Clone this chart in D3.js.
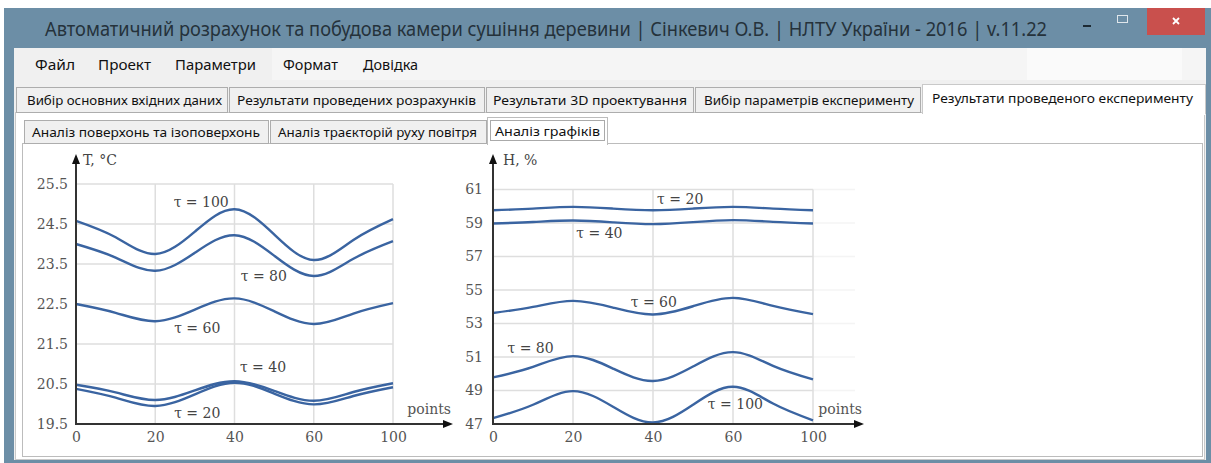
<!DOCTYPE html>
<html>
<head>
<meta charset="utf-8">
<script src="https://cdn.jsdelivr.net/npm/d3@7/dist/d3.min.js"></script>
<style>
body { margin: 0; background: #fff; }
svg { display: block; }
</style>
</head>
<body>
<svg id="app" width="1211" height="463"></svg>
<script>
// --- data ---
var pointTicks = [0, 20, 40, 60, 100];           // x axis labels (evenly spaced)
var steps = [0, 0.5, 1, 1.5, 2, 2.5, 3, 3.5, 4];   // sample position along the points axis
var tempTicks = [19.5, 20.5, 21.5, 22.5, 23.5, 24.5, 25.5];
var humTicks = [47, 49, 51, 53, 55, 57, 59, 61];
var tauNames = ['τ = 20', 'τ = 40', 'τ = 60', 'τ = 80', 'τ = 100'];

// T, °C
var tempTau20  = [20.38, 20.16, 19.95, 20.24, 20.53, 20.26, 19.99, 20.20, 20.42];
var tempTau40  = [20.48, 20.29, 20.10, 20.34, 20.57, 20.33, 20.08, 20.30, 20.52];
var tempTau60  = [22.50, 22.28, 22.07, 22.36, 22.64, 22.32, 22.00, 22.26, 22.52];
var tempTau80  = [24.00, 23.66, 23.33, 23.78, 24.22, 23.71, 23.20, 23.63, 24.07];
var tempTau100 = [24.58, 24.17, 23.75, 24.31, 24.87, 24.24, 23.60, 24.10, 24.62];
var tempLabelAt = [[1.53, 19.78], [2.36, 20.93], [1.53, 21.90], [2.37, 23.20], [1.58, 25.06]];

// H, %
var humTau20  = [59.76, 59.86, 59.96, 59.86, 59.76, 59.86, 59.96, 59.86, 59.76];
var humTau40  = [58.97, 59.06, 59.15, 59.04, 58.93, 59.05, 59.17, 59.07, 58.97];
var humTau60  = [53.63, 53.99, 54.35, 53.95, 53.54, 54.03, 54.53, 54.05, 53.56];
var humTau80  = [49.78, 50.41, 51.05, 50.31, 49.57, 50.43, 51.29, 50.47, 49.66];
var humTau100 = [47.35, 48.15, 48.96, 48.03, 47.09, 48.15, 49.22, 48.22, 47.22];
var humLabelAt = [[2.34, 60.42], [1.33, 58.37], [2.01, 54.29], [0.47, 51.51], [3.03, 48.17]];

var svg = d3.select('#app');
var uiFont = "'Noto Sans', 'Open Sans', sans-serif";
var serif = "'DejaVu Serif', 'Liberation Serif', serif";

drawWindow();
drawChart({
    left: 76, right: 393, top: 184, bottom: 424, arrowX: 453,
    domain: [19.5, 25.5], ticks: tempTicks, fmt: d3.format('.1f'), pad: 8,
    title: 'T, °C', titleX: 83,
    series: [tempTau20, tempTau40, tempTau60, tempTau80, tempTau100],
    labels: tempLabelAt
});
drawChart({
    left: 493, right: 813, top: 189.5, bottom: 424, arrowX: 864,
    domain: [47, 61], ticks: humTicks, fmt: d3.format('d'), pad: 10,
    title: 'H, %', titleX: 503, extend: 855,
    series: [humTau20, humTau40, humTau60, humTau80, humTau100],
    labels: humLabelAt
});

function txt(x, y, s, size, w, opts) {
    opts = opts || {};
    var t = svg.append('text')
        .attr('x', x).attr('y', y)
        .attr('dy', '0.35em')
        .attr('font-family', opts.family || uiFont)
        .attr('font-size', size)
        .attr('fill', opts.fill || '#111')
        .text(s);
    if (w) t.attr('textLength', w).attr('lengthAdjust', 'spacingAndGlyphs');
    return t;
}

function drawWindow() {
    // frame + title bar
    svg.append('rect').attr('x', 4).attr('y', 8).attr('width', 1207).attr('height', 455)
       .attr('fill', '#6c8ea6');
    txt(45, 29, 'Автоматичний розрахунок та побудова камери сушіння деревини | Сінкевич О.В. | НЛТУ України - 2016 | v.11.22',
        20, 1002, {fill: '#25323b'});

    // window buttons
    svg.append('rect').attr('x', 1083).attr('y', 25).attr('width', 8).attr('height', 2).attr('fill', '#1d2a33');
    svg.append('rect').attr('x', 1117.5).attr('y', 15.5).attr('width', 10).attr('height', 7)
       .attr('fill', 'none').attr('stroke', '#dfe6eb').attr('stroke-width', 1);
    svg.append('rect').attr('x', 1147).attr('y', 8).attr('width', 58).attr('height', 27).attr('fill', '#c9504d');
    svg.append('path').attr('d', 'M1173,18 L1179,24 M1179,18 L1173,24')
       .attr('stroke', '#fff').attr('stroke-width', 1.8);

    // client area
    svg.append('rect').attr('x', 14).attr('y', 48).attr('width', 1192).attr('height', 412).attr('fill', '#f0f0f0');
    svg.append('rect').attr('x', 272).attr('y', 48).attr('width', 934).attr('height', 32).attr('fill', '#f5f5f5');
    svg.append('rect').attr('x', 1027).attr('y', 48).attr('width', 155).attr('height', 32).attr('fill', '#fafafa');

    var menu = [['Файл', 35, 40], ['Проект', 98, 53], ['Параметри', 175, 81], ['Формат', 283, 55], ['Довідка', 363, 55]];
    menu.forEach(function (m) { txt(m[1], 65, m[0], 15, m[2]); });

    // outer tab page
    svg.append('rect').attr('x', 15.5).attr('y', 112.5).attr('width', 1189).attr('height', 347)
       .attr('fill', '#fff').attr('stroke', '#c9c9c9');

    var tabs1 = [
        ['Вибір основних вхідних даних', 16, 227, 27, 195],
        ['Результати проведених розрахунків', 229, 484, 237, 239],
        ['Результати 3D проектування', 486, 693, 493, 194],
        ['Вибір параметрів експерименту', 695, 920, 704, 210]
    ];
    tabs1.forEach(function (t) {
        svg.append('rect').attr('x', t[1] + 0.5).attr('y', 87.5).attr('width', t[2] - t[1]).attr('height', 25)
           .attr('fill', '#f0f0f0').attr('stroke', '#adadad');
        txt(t[3], 100, t[0], 13, t[4]);
    });
    svg.append('rect').attr('x', 922.5).attr('y', 84.5).attr('width', 283).attr('height', 29)
       .attr('fill', '#fff').attr('stroke', '#c9c9c9');
    svg.append('rect').attr('x', 923).attr('y', 112).attr('width', 282).attr('height', 3).attr('fill', '#fff');
    txt(932, 98, 'Результати проведеного експерименту', 13, 261);

    // inner tab strip
    svg.append('rect').attr('x', 22.5).attr('y', 143.5).attr('width', 1180).attr('height', 313)
       .attr('fill', '#fff').attr('stroke', '#bcbcbc');
    var tabs2 = [
        ['Аналіз поверхонь та ізоповерхонь', 24, 268, 32, 228],
        ['Аналіз траєкторій руху повітря', 270, 486, 278, 199]
    ];
    tabs2.forEach(function (t) {
        svg.append('rect').attr('x', t[1] + 0.5).attr('y', 120.5).attr('width', t[2] - t[1]).attr('height', 23)
           .attr('fill', '#f0f0f0').attr('stroke', '#adadad');
        txt(t[3], 132, t[0], 13, t[4]);
    });
    svg.append('rect').attr('x', 487.5).attr('y', 117.5).attr('width', 120).attr('height', 27)
       .attr('fill', '#fff').attr('stroke', '#bcbcbc');
    svg.append('rect').attr('x', 488).attr('y', 143).attr('width', 119).attr('height', 3).attr('fill', '#fff');
    svg.append('rect').attr('x', 490.5).attr('y', 120.5).attr('width', 114).attr('height', 20)
       .attr('fill', 'none').attr('stroke', '#555').attr('stroke-dasharray', '1,1');
    txt(495, 131, 'Аналіз графіків', 13, 105);
}

function drawChart(c) {
    var x = d3.scaleLinear().domain([0, pointTicks.length - 1]).range([c.left, c.right]);
    var y = d3.scaleLinear().domain(c.domain).range([c.bottom, c.top]);
    var g = svg.append('g');

    // grid
    if (c.extend) {
        g.selectAll('.ext').data(c.ticks.slice(1)).enter().append('line')
         .attr('x1', c.right).attr('x2', c.extend)
         .attr('y1', function (d) { return y(d); }).attr('y2', function (d) { return y(d); })
         .attr('stroke', '#f4f4f4').attr('stroke-width', 1.5);
    }
    g.selectAll('.hgrid').data(c.ticks.slice(1)).enter().append('line')
     .attr('x1', c.left).attr('x2', c.right)
     .attr('y1', function (d) { return y(d); }).attr('y2', function (d) { return y(d); })
     .attr('stroke', '#dedede').attr('stroke-width', 1.5);
    g.selectAll('.vgrid').data(d3.range(1, pointTicks.length)).enter().append('line')
     .attr('x1', function (d) { return x(d); }).attr('x2', function (d) { return x(d); })
     .attr('y1', c.top).attr('y2', c.bottom)
     .attr('stroke', '#dedede').attr('stroke-width', 1.5);

    // tick labels through d3 axes
    var ya = g.append('g').attr('transform', 'translate(' + c.left + ',0)')
        .call(d3.axisLeft(y).tickValues(c.ticks).tickFormat(c.fmt).tickSize(0).tickPadding(c.pad));
    var xa = g.append('g').attr('transform', 'translate(0,' + c.bottom + ')')
        .call(d3.axisBottom(x).tickValues(d3.range(pointTicks.length))
              .tickFormat(function (i) { return pointTicks[i]; }).tickSize(0).tickPadding(8));
    [ya, xa].forEach(function (a) {
        a.select('.domain').remove();
        a.selectAll('text').attr('font-family', serif).attr('font-size', 14).attr('fill', '#555');
    });

    // curves
    var line = d3.line()
        .x(function (d, i) { return x(steps[i]); })
        .y(function (d) { return y(d); })
        .curve(d3.curveNatural);
    g.selectAll('.curve').data(c.series).enter().append('path')
     .attr('d', line)
     .attr('fill', 'none').attr('stroke', '#3a64a1').attr('stroke-width', 2.4);

    c.labels.forEach(function (p, i) {
        g.append('text').attr('x', x(p[0])).attr('y', y(p[1])).attr('dy', '0.35em')
         .attr('text-anchor', 'middle').attr('font-family', serif).attr('font-size', 14)
         .attr('fill', '#444').text(tauNames[i]);
    });

    // axes with arrows
    g.append('path')
     .attr('d', 'M' + c.left + ',' + (c.bottom + 1) + 'V162 M' + c.left + ',' + c.bottom + 'H' + (c.arrowX - 8))
     .attr('fill', 'none').attr('stroke', '#333').attr('stroke-width', 2);
    g.append('path')
     .attr('d', 'M' + c.left + ',154 L' + (c.left - 4) + ',164 L' + (c.left + 4) + ',164Z' +
                'M' + c.arrowX + ',' + c.bottom + ' L' + (c.arrowX - 10) + ',' + (c.bottom - 4) +
                ' L' + (c.arrowX - 10) + ',' + (c.bottom + 4) + 'Z')
     .attr('fill', '#111');

    g.append('text').attr('x', c.titleX).attr('y', 160).attr('dy', '0.35em')
     .attr('font-family', serif).attr('font-size', 14).attr('fill', '#444').text(c.title);
    g.append('text').attr('x', c.arrowX - 2).attr('y', 409).attr('dy', '0.35em').attr('text-anchor', 'end')
     .attr('font-family', serif).attr('font-size', 14).attr('fill', '#555').text('points');
}
</script>
</body>
</html>
